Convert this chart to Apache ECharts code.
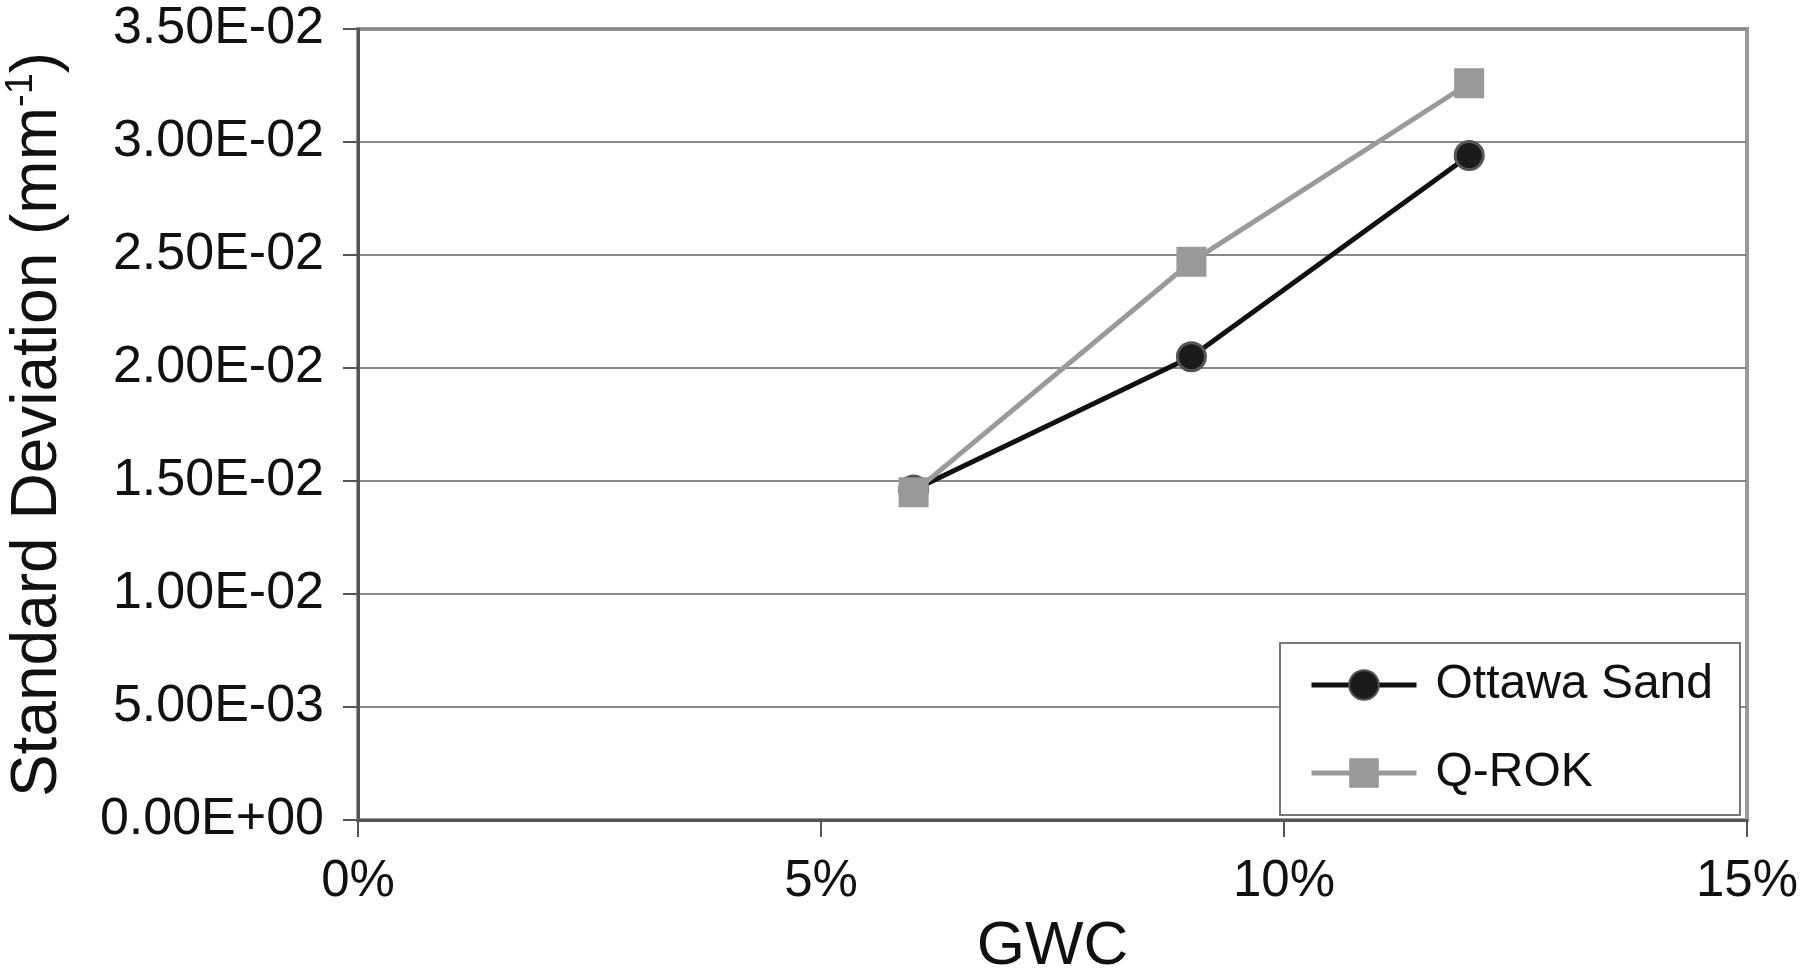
<!DOCTYPE html>
<html>
<head>
<meta charset="utf-8">
<script src="https://cdn.jsdelivr.net/npm/echarts@6/dist/echarts.min.js"></script>
<style>
html,body{margin:0;padding:0;background:#fff;}
#chart{width:1800px;height:975px;}
</style>
</head>
<body>
<div id="chart"></div>
<script>
// GWC (%) values
const gwc = [6, 9, 12];
// Standard deviation (mm^-1)
const ottawaSand = [0.0146, 0.0205, 0.0294];
const qRok = [0.0145, 0.0247, 0.0326];
const seriesNames = ['Ottawa Sand', 'Q-ROK'];
const xTicks = [0, 5, 10, 15];
const yTicks = [0, 0.005, 0.01, 0.015, 0.02, 0.025, 0.03, 0.035];

function sci(v) {
  if (Math.abs(v) < 1e-12) return '0.00E+00';
  const s = v.toExponential(2).toUpperCase();
  const m = s.match(/^(-?[\d.]+)E([+-])(\d+)$/);
  const e = m[3].length < 2 ? '0' + m[3] : m[3];
  return m[1] + 'E' + m[2] + e;
}

const FONT = 'Liberation Sans, Arial, Helvetica, sans-serif';
const chart = echarts.init(document.getElementById('chart'));
chart.setOption({
  animation: false,
  backgroundColor: '#fff',
  textStyle: { fontFamily: FONT },
  grid: {
    left: 358, right: 53, top: 29, bottom: 155,
    outerBoundsMode: 'none',
    containLabel: false,
    show: true, borderColor: '#9a9a9a', borderWidth: 4, backgroundColor: '#fff'
  },
  legend: {
    orient: 'vertical',
    left: 1280, top: 643,
    padding: [18, 27, 18, 29],
    itemGap: 40,
    itemWidth: 105,
    itemHeight: 37,
    backgroundColor: '#fff',
    borderColor: '#777',
    borderWidth: 2,
    data: seriesNames,
    lineStyle: { width: 5 },
    textStyle: { fontFamily: FONT, fontSize: 48, color: '#111', lineHeight: 48, padding: [0, 0, 0, 14] }
  },
  xAxis: {
    type: 'value',
    min: xTicks[0], max: xTicks[xTicks.length - 1], interval: 5,
    name: 'GWC',
    nameLocation: 'middle',
    nameGap: 96,
    nameTextStyle: { fontFamily: FONT, fontSize: 62, color: '#111' },
    axisLine: { show: true, onZero: false, lineStyle: { color: '#555', width: 3 } },
    axisTick: { show: true, inside: false, length: 17, lineStyle: { color: '#555', width: 2 } },
    axisLabel: { fontFamily: FONT, fontSize: 51, color: '#111', margin: 36, formatter: v => v + '%' },
    splitLine: { show: false }
  },
  yAxis: {
    type: 'value',
    min: yTicks[0], max: yTicks[yTicks.length - 1], interval: 0.005,
    name: '{a|Standard Deviation (mm}{s|-1}{a|)}',
    nameLocation: 'middle',
    nameGap: 285,
    nameRotate: 90,
    nameTextStyle: {
      fontFamily: FONT, fontSize: 64, color: '#111',
      rich: {
        a: { fontFamily: FONT, fontSize: 64, color: '#111', lineHeight: 70 },
        s: { fontFamily: FONT, fontSize: 38, color: '#111', verticalAlign: 'top', lineHeight: 40 }
      }
    },
    axisLine: { show: true, onZero: false, lineStyle: { color: '#555', width: 3 } },
    axisTick: { show: true, inside: false, length: 15, lineStyle: { color: '#555', width: 2 } },
    axisLabel: { fontFamily: FONT, fontSize: 52, color: '#111', margin: 34, formatter: sci },
    splitLine: { show: true, lineStyle: { color: '#888', width: 2 } }
  },
  series: [
    {
      name: seriesNames[0],
      type: 'line',
      data: gwc.map((x, i) => [x, ottawaSand[i]]),
      symbol: 'circle',
      symbolSize: 28,
      lineStyle: { color: '#111', width: 5 },
      itemStyle: { color: '#1b1b1b', borderColor: '#555', borderWidth: 3 },
      z: 2
    },
    {
      name: seriesNames[1],
      type: 'line',
      data: gwc.map((x, i) => [x, qRok[i]]),
      symbol: 'rect',
      symbolSize: 30,
      lineStyle: { color: '#9a9a9a', width: 5 },
      itemStyle: { color: '#999' },
      z: 3
    }
  ]
});
</script>
</body>
</html>
